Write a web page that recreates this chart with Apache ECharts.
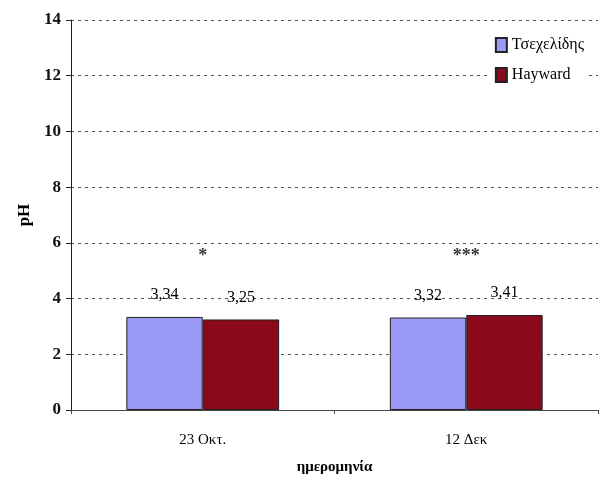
<!DOCTYPE html>
<html><head><meta charset="utf-8">
<script src="https://cdn.jsdelivr.net/npm/echarts@6/dist/echarts.min.js"></script>
<style>html,body{margin:0;padding:0;background:#fff}#c{width:611px;height:481px}</style>
</head><body><div id="c"></div>
<script>
var categories = ['23 Οκτ.', '12 Δεκ'];
var seriesNames = ['Τσεχελίδης', 'Hayward'];
var tsechelidis = [3.34, 3.32];
var hayward = [3.25, 3.41];
var sigLabels = ['*', '***'];
var sigLevel = [5.5, 5.5];
var yTicks = [0, 2, 4, 6, 8, 10, 12, 14];

var font = 'Liberation Serif';
var chart = echarts.init(document.getElementById('c'));
function fmt(p){ return String(p.value).replace('.', ','); }
chart.setOption({
  animation: false,
  textStyle: { fontFamily: font },
  grid: { left: 71, right: 13, top: 20, bottom: 71 },
  legend: {
    orient: 'vertical', right: 22, top: 32,
    icon: 'rect',
    itemWidth: 11, itemHeight: 14, itemGap: 14,
    backgroundColor: '#fff',
    textStyle: { fontFamily: font, fontSize: 16, color: '#000' },
    data: seriesNames
  },
  xAxis: {
    type: 'category', data: categories,
    name: 'ημερομηνία', nameLocation: 'middle', nameGap: 50,
    nameTextStyle: { fontFamily: font, fontSize: 15, fontWeight: 'bold', color: '#000' },
    axisLine: { lineStyle: { color: '#444' } },
    axisTick: { show: true, length: 4, lineStyle: { color: '#444' } },
    axisLabel: { fontFamily: font, fontSize: 15, color: '#000', margin: 23 }
  },
  yAxis: {
    type: 'value', min: 0, max: 14, interval: 2,
    name: 'pH', nameLocation: 'middle', nameGap: 38, nameRotate: 90,
    nameTextStyle: { fontFamily: font, fontSize: 17, fontWeight: 'bold', color: '#000' },
    axisLine: { show: true, lineStyle: { color: '#222' } },
    axisTick: { show: true, length: 5, lineStyle: { color: '#222' } },
    axisLabel: { fontFamily: font, fontSize: 17, fontWeight: 'bold', color: '#111', margin: 10,
      formatter: function(v){ return yTicks.indexOf(v) >= 0 ? String(v) : ''; } },
    splitLine: { show: true, lineStyle: { color: '#555', type: [3, 4], width: 1 } }
  },
  series: [
    { name: seriesNames[0], type: 'bar', data: tsechelidis, barGap: '0%', barCategoryGap: '42%',
      itemStyle: { color: '#9a99f5', borderColor: '#222', borderWidth: 1 },
      label: { show: true, position: 'top', distance: 14, formatter: fmt,
        fontFamily: font, fontSize: 16, color: '#000' } },
    { name: seriesNames[1], type: 'bar', data: hayward,
      itemStyle: { color: '#8a0a1c', borderColor: '#222', borderWidth: 1 },
      label: { show: true, position: 'top', distance: 14, formatter: fmt,
        fontFamily: font, fontSize: 16, color: '#000' } },
    { name: 'sig', type: 'scatter', symbolSize: 0, silent: true,
      data: sigLevel.map(function(v, i){ return [categories[i], v]; }),
      label: { show: true, position: 'inside',
        formatter: function(p){ return sigLabels[p.dataIndex]; },
        fontFamily: font, fontSize: 18, fontWeight: 'bold', color: '#000' } }
  ]
});
</script></body></html>
